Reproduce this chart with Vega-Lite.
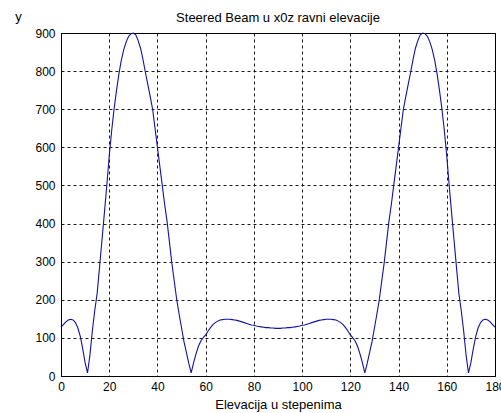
{
  "$schema": "https://vega.github.io/schema/vega-lite/v6.json",
  "width": 434,
  "height": 343,
  "autosize": {"type": "none"},
  "padding": {"left": 61, "top": 33, "right": 6, "bottom": 37},
  "background": "white",
  "title": {"text": "Steered Beam u x0z ravni elevacije", "fontSize": 13, "font": "Liberation Sans", "fontWeight": "normal", "color": "black", "offset": 0, "dy": 15},
  "config": {"view": {"stroke": "black", "strokeWidth": 1}},
  "data": {"values": [
    {"e":0,"y":128},{"e":1,"y":135},{"e":2,"y":142},{"e":3,"y":147},{"e":4,"y":149},{"e":5,"y":147},{"e":6,"y":140},{"e":7,"y":126},{"e":8,"y":104},{"e":9,"y":72},
    {"e":10,"y":35},{"e":11,"y":8},{"e":12,"y":55},{"e":13,"y":118},{"e":14,"y":172},{"e":15,"y":217},{"e":16,"y":287},{"e":17,"y":357},{"e":18,"y":428},{"e":19,"y":500},
    {"e":20,"y":577},{"e":21,"y":643},{"e":22,"y":700},{"e":23,"y":748},{"e":24,"y":792},{"e":25,"y":828},{"e":26,"y":856},{"e":27,"y":876},{"e":28,"y":891},{"e":29,"y":898},
    {"e":30,"y":900},{"e":31,"y":895},{"e":32,"y":880},{"e":33,"y":860},{"e":34,"y":830},{"e":35,"y":797},{"e":36,"y":765},{"e":37,"y":733},{"e":38,"y":700},{"e":39,"y":650},
    {"e":40,"y":600},{"e":41,"y":550},{"e":42,"y":500},{"e":43,"y":450},{"e":44,"y":405},{"e":45,"y":350},{"e":46,"y":295},{"e":47,"y":248},{"e":48,"y":200},{"e":49,"y":162},
    {"e":50,"y":126},{"e":51,"y":90},{"e":52,"y":62},{"e":53,"y":33},{"e":54,"y":8},{"e":55,"y":35},{"e":56,"y":58},{"e":57,"y":78},{"e":58,"y":92},{"e":59,"y":101},
    {"e":60,"y":108},{"e":61,"y":118},{"e":62,"y":127},{"e":63,"y":135},{"e":64,"y":140},{"e":65,"y":144},{"e":66,"y":147},{"e":67,"y":148},{"e":68,"y":149},{"e":69,"y":149},
    {"e":70,"y":149},{"e":71,"y":148},{"e":72,"y":147},{"e":73,"y":146},{"e":74,"y":144},{"e":75,"y":142},{"e":76,"y":140},{"e":77,"y":138},{"e":78,"y":136},{"e":79,"y":134},
    {"e":80,"y":133},{"e":81,"y":131},{"e":82,"y":130},{"e":83,"y":129},{"e":84,"y":128},{"e":85,"y":127},{"e":86,"y":127},{"e":87,"y":126},{"e":88,"y":126},{"e":89,"y":125},
    {"e":90,"y":125},{"e":91,"y":125},{"e":92,"y":126},{"e":93,"y":126},{"e":94,"y":127},{"e":95,"y":127},{"e":96,"y":128},{"e":97,"y":129},{"e":98,"y":130},{"e":99,"y":131},
    {"e":100,"y":133},{"e":101,"y":134},{"e":102,"y":136},{"e":103,"y":138},{"e":104,"y":140},{"e":105,"y":142},{"e":106,"y":144},{"e":107,"y":146},{"e":108,"y":147},{"e":109,"y":148},
    {"e":110,"y":149},{"e":111,"y":149},{"e":112,"y":149},{"e":113,"y":148},{"e":114,"y":147},{"e":115,"y":144},{"e":116,"y":140},{"e":117,"y":135},{"e":118,"y":127},{"e":119,"y":118},
    {"e":120,"y":108},{"e":121,"y":101},{"e":122,"y":92},{"e":123,"y":78},{"e":124,"y":58},{"e":125,"y":35},{"e":126,"y":8},{"e":127,"y":33},{"e":128,"y":62},{"e":129,"y":90},
    {"e":130,"y":126},{"e":131,"y":162},{"e":132,"y":200},{"e":133,"y":248},{"e":134,"y":295},{"e":135,"y":350},{"e":136,"y":405},{"e":137,"y":450},{"e":138,"y":500},{"e":139,"y":550},
    {"e":140,"y":600},{"e":141,"y":650},{"e":142,"y":700},{"e":143,"y":733},{"e":144,"y":765},{"e":145,"y":797},{"e":146,"y":830},{"e":147,"y":860},{"e":148,"y":880},{"e":149,"y":895},
    {"e":150,"y":900},{"e":151,"y":898},{"e":152,"y":891},{"e":153,"y":876},{"e":154,"y":856},{"e":155,"y":828},{"e":156,"y":792},{"e":157,"y":748},{"e":158,"y":700},{"e":159,"y":643},
    {"e":160,"y":577},{"e":161,"y":500},{"e":162,"y":428},{"e":163,"y":357},{"e":164,"y":287},{"e":165,"y":217},{"e":166,"y":172},{"e":167,"y":118},{"e":168,"y":55},{"e":169,"y":8},
    {"e":170,"y":35},{"e":171,"y":72},{"e":172,"y":104},{"e":173,"y":126},{"e":174,"y":140},{"e":175,"y":147},{"e":176,"y":149},{"e":177,"y":147},{"e":178,"y":142},{"e":179,"y":135},
    {"e":180,"y":128}
  ]},
  "mark": {"type": "line", "color": "#1212a0", "strokeWidth": 1.1},
  "encoding": {
    "x": {
      "field": "e", "type": "quantitative",
      "scale": {"domain": [0, 180], "nice": false, "zero": false},
      "axis": {
        "values": [0, 20, 40, 60, 80, 100, 120, 140, 160, 180],
        "title": "Elevacija u stepenima",
        "grid": true, "gridDash": [3, 3], "gridColor": "black", "gridOpacity": 0.9, "gridWidth": 1,
        "ticks": false, "domain": false,
        "labelFont": "Liberation Sans", "labelFontSize": 12, "labelColor": "black", "labelPadding": 5, "labelFlush": false,
        "titleFont": "Liberation Sans", "titleFontSize": 13, "titleFontWeight": "normal", "titleColor": "black", "titlePadding": 6
      }
    },
    "y": {
      "field": "y", "type": "quantitative",
      "scale": {"domain": [0, 900], "nice": false},
      "axis": {
        "values": [0, 100, 200, 300, 400, 500, 600, 700, 800, 900],
        "title": "y",
        "titleAngle": 0, "titleX": -43, "titleY": -17, "titleAlign": "center", "titleBaseline": "middle",
        "grid": true, "gridDash": [3, 3], "gridColor": "black", "gridOpacity": 0.9, "gridWidth": 1,
        "ticks": false, "domain": false,
        "labelFont": "Liberation Sans", "labelFontSize": 12, "labelColor": "black", "labelPadding": 6,
        "titleFont": "Liberation Sans", "titleFontSize": 13, "titleFontWeight": "normal", "titleColor": "black"
      }
    }
  }
}
